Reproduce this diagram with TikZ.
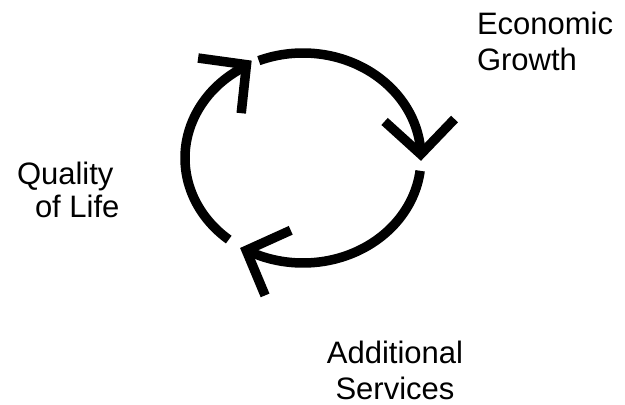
\documentclass[tikz,border=0pt]{standalone}
\usepackage{fontspec}
\setmainfont{Liberation Sans}
\usetikzlibrary{arrows.meta}

\begin{document}
\begin{tikzpicture}[x=1pt,y=1pt]
\def\linecol{black}
\def\rx{118pt}
\def\ry{105pt}

\tikzset{every node/.style={font=\fontsize{31}{36.5}\selectfont, inner sep=0pt, outer sep=0pt}}
\tikzset{cyc/.style={draw=\linecol, line width=9.5pt, -{Straight Barb[length=34pt,width=70pt]}}}
%%%%%%
\useasboundingbox (0,0) rectangle (625,405);
\coordinate (c) at (303,247);

%%%%%%% labels
\node(growth)at(477,393)[anchor=north west,align=left]{Economic\\Growth};
\node(quality)at(17,243)[anchor=north west,align=left,font=\fontsize{31}{33}\selectfont]{Quality\\\hspace*{18pt}of Life};
\node(services)at(395,64)[anchor=north,align=center]{Additional\\Services};

%%%%%%% cycle (last short piece sets the arrow's direction)
\draw[cyc] (c) ++(112:{\rx} and {\ry}) arc[start angle=112, end angle=5, x radius=\rx, y radius=\ry] -- ++(-88:12);
\draw[cyc] (c) ++(-7:{\rx} and {\ry}) arc[start angle=-7, end angle=-116, x radius=\rx, y radius=\ry] -- ++(158.5:12);
\draw[cyc] (c) ++(231:{\rx} and {\ry}) arc[start angle=231, end angle=121, x radius=\rx, y radius=\ry] -- ++(38:12);
\end{tikzpicture}
\end{document}
